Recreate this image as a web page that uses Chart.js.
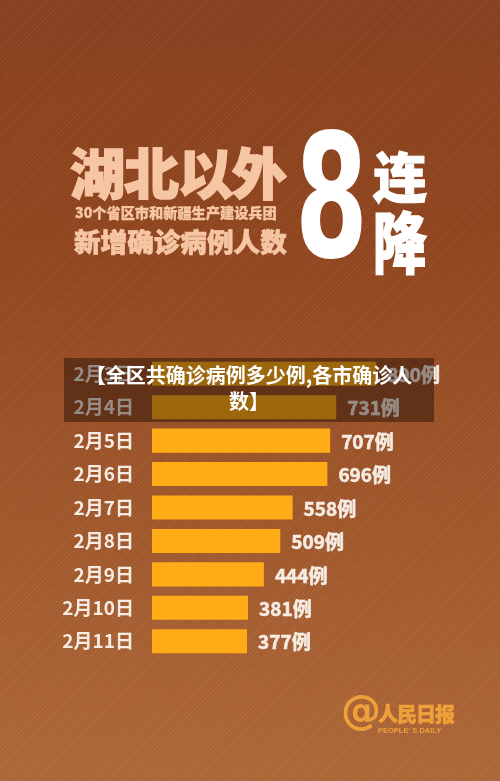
<!DOCTYPE html>
<html>
<head>
<meta charset="utf-8">
<script src="https://cdn.jsdelivr.net/npm/chart.js@4/dist/chart.umd.min.js"></script>
<style>
  html, body { margin: 0; padding: 0; }
  body {
    width: 500px; height: 781px; overflow: hidden; position: relative;
    background: linear-gradient(180deg, #8b4120 0%, #93471f 30%, #a1562a 60%, #b16a3a 100%);
    font-family: 'Noto Sans CJK SC', sans-serif;
  }
  #tex {
    position: absolute; left: 0; top: 0; width: 500px; height: 781px;
    background: repeating-linear-gradient(135deg, rgba(255,255,255,0.035) 0 1px, rgba(0,0,0,0.035) 1px 3px);
  }
  canvas { position: absolute; left: 0; top: 0; }
  .t { position: absolute; white-space: nowrap; font-weight: 900; line-height: 1; }
  #t1 { left: 70px; top: 143px; font-size: 55px; color: #f6c6a4; letter-spacing: -1px; -webkit-text-stroke: 1.5px #f6c6a4; }
  #t2 { left: 75px; top: 205px; font-size: 14.2px; color: #f6c6a4; -webkit-text-stroke: 0.3px #f6c6a4; }
  #t3 { left: 74px; top: 228px; font-size: 26.6px; color: #f6c6a4; -webkit-text-stroke: 0.7px #f6c6a4; }
  #big8 { left: 295px; top: 112px; font-size: 175px; color: #ffffff; font-family: 'DejaVu Sans', sans-serif; font-weight: bold;
          transform: scale(0.6, 0.98); transform-origin: left top; }
  #lian { left: 373px; top: 148px; font-size: 54px; color: #ffffff; -webkit-text-stroke: 1px #ffffff; }
  #jiang { left: 373px; top: 205px; font-size: 54px; color: #ffffff; transform: scale(1, 1.25); transform-origin: left top; -webkit-text-stroke: 1px #ffffff; }
  #band {
    position: absolute; left: 64px; top: 358px; width: 370px; height: 64px;
    background: rgba(20, 8, 2, 0.42);
    color: #ffffff; font-weight: bold; font-size: 20px; line-height: 26px; text-align: center;
    padding-top: 4px; box-sizing: border-box;
  }
  #logo { position: absolute; left: 341px; top: 690px; color: #f0a03a; }
  #at { position: absolute; left: 0; top: 0; font-size: 40px; font-family: 'DejaVu Sans', sans-serif; font-weight: bold; line-height: 1; }
  #rmrb { position: absolute; left: 37px; top: 14px; font-size: 20px; font-weight: 900; white-space: nowrap; line-height: 1; letter-spacing: -1px; -webkit-text-stroke: 0.5px #f0a03a; }
  #eng { position: absolute; left: 37px; top: 37px; font-size: 7.5px; font-weight: bold; white-space: nowrap; line-height: 1; font-family: 'Liberation Sans', sans-serif; }
</style>
</head>
<body>
<div id="tex"></div>
<canvas id="c" width="500" height="781"></canvas>
<div class="t" id="t1">湖北以外</div>
<div class="t" id="t2">30个省区市和新疆生产建设兵团</div>
<div class="t" id="t3">新增确诊病例人数</div>
<div class="t" id="big8">8</div>
<div class="t" id="lian">连</div>
<div class="t" id="jiang">降</div>
<div id="band">【全区共确诊病例多少例,各市确诊人<br>数】</div>
<div id="logo"><div id="at">@</div><div id="rmrb">人民日报</div><div id="eng">PEOPLE' S DAILY</div></div>
<script>
const dates = ['2月3日', '2月4日', '2月5日', '2月6日', '2月7日', '2月8日', '2月9日', '2月10日', '2月11日'];
const cases = [890, 731, 707, 696, 558, 509, 444, 381, 377];
const unitSuffix = '例';

const labelFont = { family: "'Noto Sans CJK SC', sans-serif", size: 19, weight: 'bold' };
const labelColor = '#f6ece4';

const valueLabels = {
  id: 'valueLabels',
  afterDatasetsDraw(chart) {
    const ctx = chart.ctx;
    const meta = chart.getDatasetMeta(0);
    ctx.save();
    ctx.font = `bold ${labelFont.size}px ${labelFont.family}`;
    ctx.fillStyle = labelColor;
    ctx.strokeStyle = labelColor;
    ctx.lineWidth = 0.6;
    ctx.textAlign = 'left';
    ctx.textBaseline = 'middle';
    meta.data.forEach((bar, i) => {
      const s = cases[i] + unitSuffix;
      ctx.fillText(s, bar.x + 11, bar.y + 1);
      ctx.strokeText(s, bar.x + 11, bar.y + 1);
    });
    ctx.restore();
  }
};

new Chart(document.getElementById('c'), {
  type: 'bar',
  data: {
    labels: dates,
    datasets: [{
      data: cases,
      backgroundColor: '#ffac16',
      borderWidth: 0,
      barPercentage: 0.72,
      categoryPercentage: 1.0
    }]
  },
  options: {
    indexAxis: 'y',
    responsive: false,
    animation: false,
    layout: { padding: { top: 357, bottom: 123, left: 0, right: 96 } },
    plugins: { legend: { display: false }, tooltip: { enabled: false } },
    scales: {
      x: { display: false, min: 0, max: 1000 },
      y: {
        grid: { display: false },
        border: { display: false },
        ticks: { color: labelColor, font: labelFont, padding: 10 },
        afterFit(scale) { scale.width = 152; }
      }
    }
  },
  plugins: [valueLabels]
});
</script>
</body>
</html>
